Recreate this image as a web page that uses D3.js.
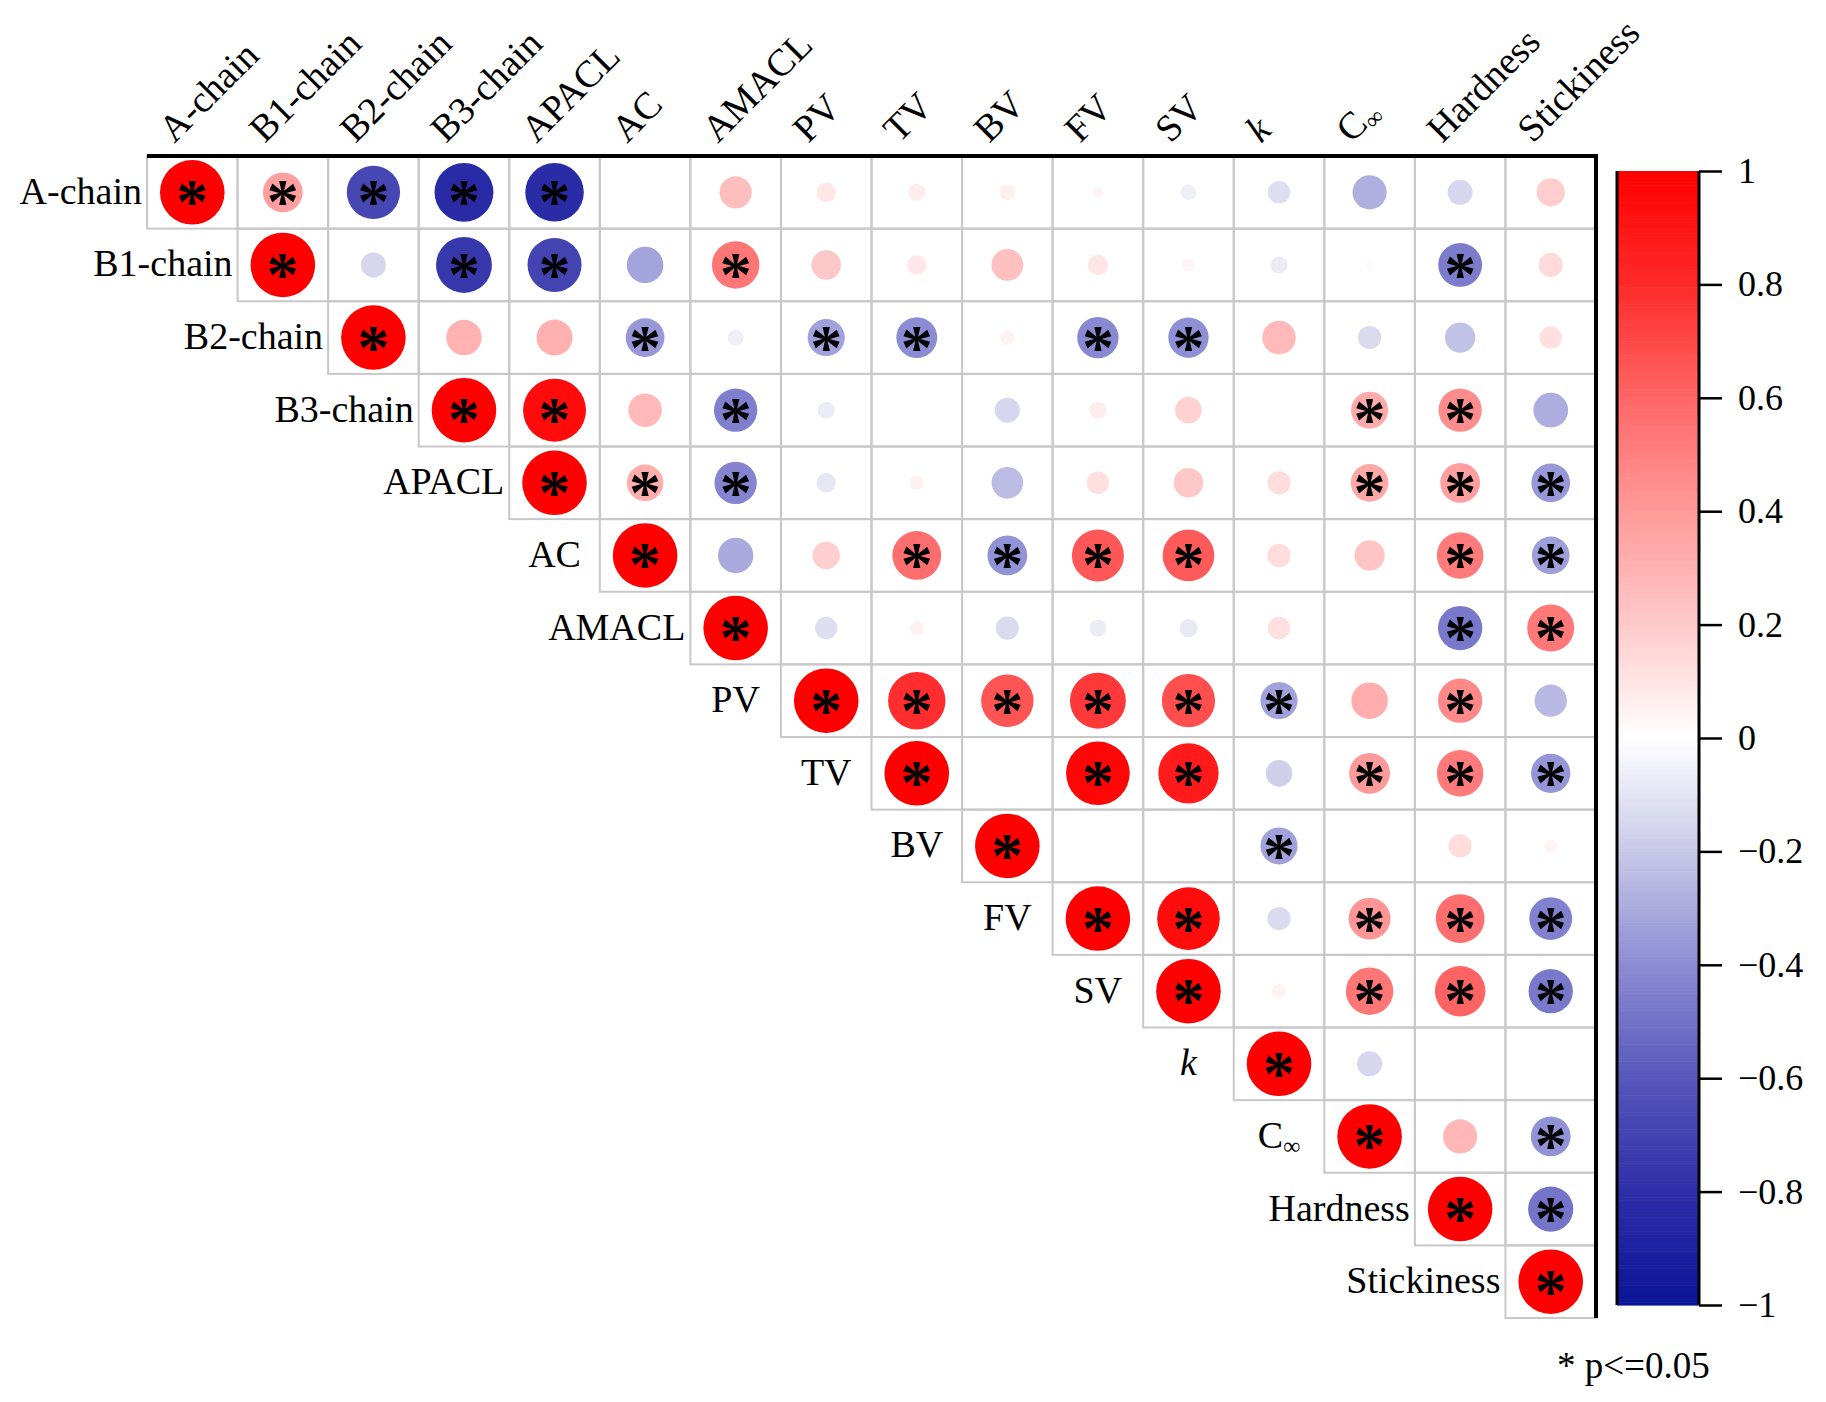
<!DOCTYPE html>
<html><head><meta charset="utf-8">
<script src="https://cdn.jsdelivr.net/npm/d3@7"></script>
<style>
body{margin:0;background:#fff}
svg{display:block}
text{font-family:"Liberation Serif","Times New Roman",serif;fill:#000}
</style>
</head><body>
<svg id="chart" width="1826" height="1402"></svg>
<script>
// ---------------- data ----------------
const labels = ["A-chain","B1-chain","B2-chain","B3-chain","APACL","AC","AMACL","PV","TV","BV","FV","SV","k","C∞","Hardness","Stickiness"];

// upper triangle, row i lists columns i..15
const corrUpper = [
  [1, 0.38, -0.68, -0.83, -0.82, 0, 0.25, 0.09, 0.07, 0.06, 0.03, -0.06, -0.12, -0.28, -0.15, 0.19],
  [1, -0.15, -0.75, -0.70, -0.32, 0.54, 0.21, 0.09, 0.24, 0.10, 0.04, -0.07, 0.02, -0.46, 0.14],
  [1, 0.30, 0.31, -0.36, -0.06, -0.33, -0.40, 0.05, -0.41, -0.39, 0.27, -0.13, -0.22, 0.12],
  [1, 0.95, 0.27, -0.45, -0.07, 0, -0.15, 0.07, 0.17, 0, 0.33, 0.45, -0.29],
  [1, 0.32, -0.43, -0.09, 0.05, -0.24, 0.12, 0.21, 0.13, 0.34, 0.38, -0.36],
  [1, -0.30, 0.18, 0.57, -0.38, 0.65, 0.64, 0.13, 0.22, 0.52, -0.34],
  [1, -0.12, 0.05, -0.13, -0.07, -0.08, 0.12, 0, -0.47, 0.53],
  [1, 0.79, 0.66, 0.75, 0.68, -0.33, 0.32, 0.47, -0.25],
  [1, 0, 0.97, 0.87, -0.17, 0.40, 0.52, -0.37],
  [1, 0, 0, -0.33, 0, 0.13, 0.04],
  [1, 0.94, -0.13, 0.42, 0.57, -0.44],
  [1, 0.05, 0.54, 0.61, -0.47],
  [1, -0.15, 0, 0],
  [1, 0.28, -0.38],
  [1, -0.49],
  [1]
];

// significance (p<=0.05) flags, same layout
const sigUpper = [
  [1,1,1,1,1,0,0,0,0,0,0,0,0,0,0,0],
  [1,0,1,1,0,1,0,0,0,0,0,0,0,1,0],
  [1,0,0,1,0,1,1,0,1,1,0,0,0,0],
  [1,1,0,1,0,0,0,0,0,0,1,1,0],
  [1,1,1,0,0,0,0,0,0,1,1,1],
  [1,0,0,1,1,1,1,0,0,1,1],
  [1,0,0,0,0,0,0,0,1,1],
  [1,1,1,1,1,1,0,1,0],
  [1,0,1,1,0,1,1,1],
  [1,0,0,1,0,0,0],
  [1,1,0,1,1,1],
  [1,0,1,1,1],
  [1,0,0,0],
  [1,0,1],
  [1,1],
  [1]
];

const colorbarTicks = [1, 0.8, 0.6, 0.4, 0.2, 0, -0.2, -0.4, -0.6, -0.8, -1];
const colorbarTickLabels = ["1","0.8","0.6","0.4","0.2","0","\u22120.2","\u22120.4","\u22120.6","\u22120.8","\u22121"];
const legendText = "* p<=0.05";

// ---------------- layout ----------------
const svg = d3.select("#chart");
svg.append("rect").attr("width",1826).attr("height",1402).attr("fill","#fff");

const gx0 = 147, gx1 = 1596, gy0 = 156, gy1 = 1318;
const idx = d3.range(labels.length);
const x = d3.scaleBand().domain(idx).range([gx0, gx1]);
const y = d3.scaleBand().domain(idx).range([gy0, gy1]);
const bw = x.bandwidth(), bh = y.bandwidth();
const rad = d3.scaleSqrt().domain([0, 1]).range([0, 32.3]);
const color = d3.scaleLinear()
  .domain([-1, -0.8, -0.6, -0.4, -0.2, 0, 0.2, 0.4, 0.6, 0.8, 1])
  .range(["#0a1496","#2e2ea8","#5757bb","#8c8cd4","#c8c8e8","#ffffff","#ffcaca","#ff9a9a","#ff6666","#ff2a2a","#ff0000"])
  .interpolate(d3.interpolateRgb);

const cells = corrUpper.flatMap((row, i) => row.map((v, k) => ({i, j: i + k, v, sig: sigUpper[i][k]})));

// cell borders
svg.append("g").selectAll("rect").data(cells).join("rect")
  .attr("x", d => x(d.j)).attr("y", d => y(d.i))
  .attr("width", bw).attr("height", bh)
  .attr("fill", "none").attr("stroke", "#c8c8c8").attr("stroke-width", 2);

// circles
svg.append("g").selectAll("circle").data(cells.filter(d => d.v !== 0)).join("circle")
  .attr("cx", d => x(d.j) + bw / 2).attr("cy", d => y(d.i) + bh / 2)
  .attr("r", d => rad(Math.abs(d.v)))
  .attr("fill", d => color(d.v));

// asterisks
svg.append("g").selectAll("text").data(cells.filter(d => d.sig)).join("text")
  .attr("x", d => x(d.j) + bw / 2).attr("y", d => y(d.i) + bh / 2 + 31)
  .attr("text-anchor", "middle").attr("font-size", 64).attr("font-weight", "bold")
  .text("*");

function fillLabel(t, name) {
  if (name === "k") {
    t.append("tspan").attr("font-style", "italic").text("k");
  } else if (name === "C∞") {
    t.append("tspan").text("C");
    t.append("tspan").attr("font-size", 24).attr("dy", 6).text("∞");
  } else {
    t.text(name);
  }
}

// row labels
idx.forEach(i => {
  const t = svg.append("text").attr("font-size", 38).attr("y", y(i) + bh / 2 + 11.5);
  fillLabel(t, labels[i]);
  const w = t.node().getComputedTextLength();
  if (w <= bw - 12) {
    t.attr("text-anchor", "middle").attr("x", x(i) - bw / 2);
  } else {
    t.attr("text-anchor", "end").attr("x", x(i) - 5);
  }
});

// column labels
idx.forEach(j => {
  const t = svg.append("text").attr("font-size", 38)
    .attr("transform", `translate(${x(j) + bw / 2 - 18},144) rotate(-45)`)
    .attr("text-anchor", "start");
  fillLabel(t, labels[j]);
});

// black frame lines (top and right)
svg.append("line").attr("x1", gx0).attr("x2", gx1 + 2).attr("y1", gy0).attr("y2", gy0)
  .attr("stroke", "#000").attr("stroke-width", 4);
svg.append("line").attr("x1", gx1).attr("x2", gx1).attr("y1", gy0).attr("y2", gy1)
  .attr("stroke", "#000").attr("stroke-width", 4);

// colorbar
const cbx0 = 1617, cbx1 = 1699, cbTop = 171, cbBot = 1305;
const cb = d3.scaleLinear().domain([-1, 1]).range([cbBot, cbTop]);
const steps = d3.range(0, 400);
svg.append("g").selectAll("rect").data(steps).join("rect")
  .attr("x", cbx0).attr("width", cbx1 - cbx0)
  .attr("y", s => cb(-1 + (s + 1) * 2 / 400))
  .attr("height", (cbBot - cbTop) / 400 + 0.6)
  .attr("fill", s => color(-1 + (s + 0.5) * 2 / 400));
svg.append("line").attr("x1", cbx0).attr("x2", cbx0).attr("y1", cbTop).attr("y2", cbBot)
  .attr("stroke", "#000").attr("stroke-width", 3);
svg.append("line").attr("x1", cbx1).attr("x2", cbx1).attr("y1", cbTop).attr("y2", cbBot)
  .attr("stroke", "#000").attr("stroke-width", 3);

const ax = svg.append("g").attr("transform", `translate(${cbx1},0)`)
  .call(d3.axisRight(cb).tickValues(colorbarTicks).tickSize(23).tickPadding(16)
    .tickFormat((d, i) => colorbarTickLabels[i]));
ax.select(".domain").remove();
ax.selectAll(".tick line").attr("stroke", "#000").attr("stroke-width", 2.5);
ax.selectAll(".tick text").attr("font-size", 36).attr("fill", "#000")
  .attr("font-family", "Liberation Serif, Times New Roman, serif");

// legend
svg.append("text").attr("x", 1557).attr("y", 1378).attr("font-size", 37).text(legendText);
</script>
</body></html>
